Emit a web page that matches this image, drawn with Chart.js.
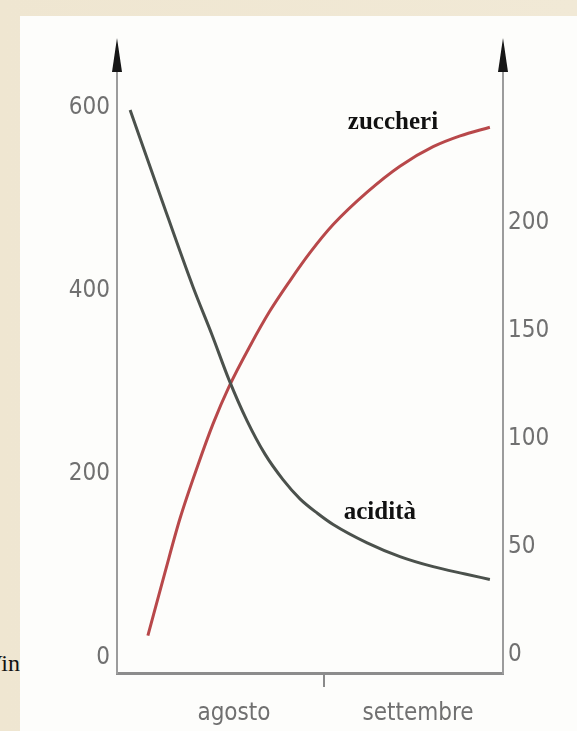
<!DOCTYPE html>
<html>
<head>
<meta charset="utf-8">
<script src="https://cdn.jsdelivr.net/npm/chart.js@4.4.0/dist/chart.umd.min.js"></script>
<style>
  html, body { margin: 0; padding: 0; }
  body { width: 577px; height: 731px; position: relative; overflow: hidden;
         background: linear-gradient(90deg, #efe6d1, #f1e9d6); }
  #panel { position: absolute; left: 20px; top: 16px; right: 0; bottom: 0; background: #fdfdfb; }
  #vin { position: absolute; left: 0; top: 650px; width: 20px; overflow: hidden; white-space: nowrap;
         direction: rtl; font: 24px "Liberation Serif", serif; color: #111; }
  #wrap { position: absolute; left: 0; top: 0; width: 577px; height: 731px; }
</style>
</head>
<body>
<div id="vin">Vin</div>
<div id="panel"></div>
<div id="wrap"><canvas id="myChart" width="577" height="731"></canvas></div>
<script>
// time axis (0-100 across the season)
var acidX   = [3.4, 11.1, 19.7, 24.6, 29.0, 33.7, 38.3, 43.0, 47.4, 52.0, 56.0, 64.8, 73.3, 81.9, 90.2, 96.6];
var acidVal = [597, 505, 404, 352, 303, 258, 222, 194, 173, 157, 145, 125, 110, 99, 91, 85];

var sugarX   = [8.0, 12.4, 16.3, 21.0, 24.9, 29.0, 34.5, 39.6, 44.8, 50.0, 56.0, 64.8, 73.3, 81.9, 88.9, 96.6];
var sugarVal = [9, 38, 63, 88, 107, 124, 143, 159, 173, 186, 199, 214, 226, 235, 240, 244];

var monthLabels = ["agosto", "settembre"];
var monthPos = [30.3, 78.0];
var monthSplit = 53.5;

var leftTicks = [0, 200, 400, 600];
var rightTicks = [0, 50, 100, 150, 200];

function toPoints(xs, ys) {
    return xs.map(function (x, i) { return { x: x, y: ys[i] }; });
}

var tickFont = { family: "'Liberation Sans Narrow', 'DejaVu Sans Condensed', sans-serif", size: 24 };
var tickColor = "#707070";

// arrows on the two vertical axes + curve labels
var extras = {
    id: "extras",
    afterDraw: function (chart) {
        var ctx = chart.ctx;
        var area = chart.chartArea;
        ctx.save();
        ctx.fillStyle = "#161616";
        [area.left, area.right].forEach(function (x) {
            ctx.beginPath();
            ctx.moveTo(x, area.top - 7);
            ctx.lineTo(x - 5, area.top + 27);
            ctx.lineTo(x + 5, area.top + 27);
            ctx.closePath();
            ctx.fill();
        });
        var xs = chart.scales.x;
        ctx.font = "bold 25px 'Liberation Serif', serif";
        ctx.fillStyle = "#111";
        ctx.textAlign = "center";
        ctx.textBaseline = "middle";
        ctx.fillText("zuccheri", xs.getPixelForValue(71.5), chart.scales.yR.getPixelForValue(246));
        ctx.fillText("acidità", xs.getPixelForValue(68.1), chart.scales.yL.getPixelForValue(158));
        ctx.restore();
    }
};

var ctx = document.getElementById("myChart").getContext("2d");
var chart = new Chart(ctx, {
    type: "scatter",
    data: {
        datasets: [{
            label: "acidità",
            data: toPoints(acidX, acidVal),
            yAxisID: "yL",
            showLine: true,
            borderColor: "#4b514c",
            borderWidth: 3,
            pointRadius: 0,
            cubicInterpolationMode: "monotone"
        }, {
            label: "zuccheri",
            data: toPoints(sugarX, sugarVal),
            yAxisID: "yR",
            showLine: true,
            borderColor: "#b8484a",
            borderWidth: 3,
            pointRadius: 0,
            cubicInterpolationMode: "monotone"
        }]
    },
    options: {
        responsive: false,
        animation: false,
        layout: { padding: { top: 45, left: 0, right: 0, bottom: 0 } },
        plugins: { legend: { display: false }, tooltip: { enabled: false } },
        scales: {
            x: {
                type: "linear",
                min: 0,
                max: 100,
                afterFit: function (s) { s.height = 58; },
                afterBuildTicks: function (s) {
                    s.ticks = [{ value: monthPos[0] }, { value: monthSplit }, { value: monthPos[1] }];
                },
                ticks: {
                    autoSkip: false,
                    maxRotation: 0,
                    padding: 12,
                    font: tickFont,
                    color: tickColor,
                    callback: function (v) {
                        var i = monthPos.indexOf(v);
                        return i >= 0 ? monthLabels[i] : "";
                    }
                },
                grid: {
                    drawOnChartArea: false,
                    tickLength: 14,
                    lineWidth: 2,
                    color: function (c) { return c.tick && c.tick.value === monthSplit ? "#8a8a8a" : "rgba(0,0,0,0)"; }
                },
                border: { color: "#8c8c8c", width: 3 }
            },
            yL: {
                type: "linear",
                position: "left",
                min: -17,
                max: 668,
                afterFit: function (s) { s.width = 117; },
                afterBuildTicks: function (s) {
                    s.ticks = leftTicks.map(function (v) { return { value: v }; });
                },
                ticks: { padding: 7, font: tickFont, color: tickColor },
                grid: { display: false, drawTicks: false },
                border: { color: "#9c9c9c", width: 2 }
            },
            yR: {
                type: "linear",
                position: "right",
                min: -8.3,
                max: 282,
                afterFit: function (s) { s.width = 74; },
                afterBuildTicks: function (s) {
                    s.ticks = rightTicks.map(function (v) { return { value: v }; });
                },
                ticks: { padding: 5, font: tickFont, color: tickColor },
                grid: { display: false, drawTicks: false },
                border: { color: "#9c9c9c", width: 2 }
            }
        }
    },
    plugins: [extras]
});
</script>
</body>
</html>
